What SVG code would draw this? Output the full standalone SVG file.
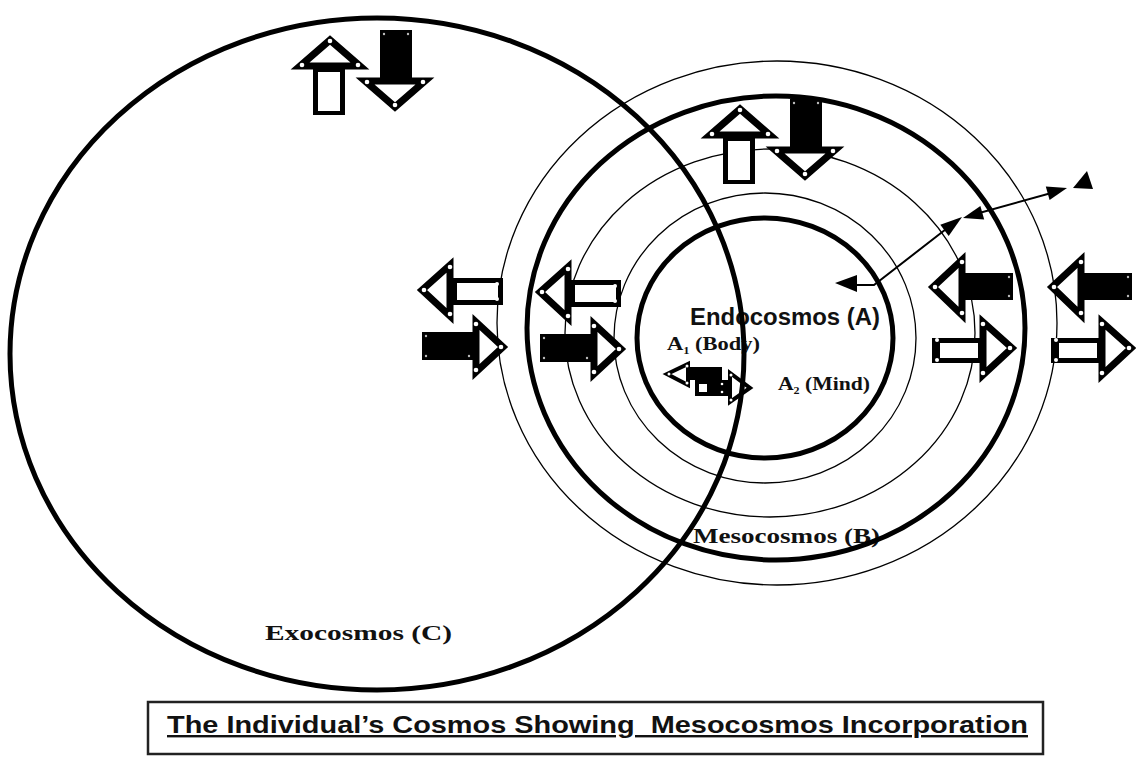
<svg xmlns="http://www.w3.org/2000/svg" xmlns:xlink="http://www.w3.org/1999/xlink" width="1136" height="757" viewBox="0 0 1136 757">
<style>
.thick{fill:none;stroke:#000;stroke-width:5}
.thin{fill:none;stroke:#000;stroke-width:1.3}
.tri{fill:#fff;stroke:#000;stroke-width:7;stroke-linejoin:miter;stroke-miterlimit:6}
.tris{fill:#fff;stroke:#000;stroke-width:4;stroke-linejoin:miter;stroke-miterlimit:6}
.blk{fill:#000}
.wht{fill:#fff}
.dot{fill:#fff}
.mk{fill:#bbb}
.serif{font-family:"Liberation Serif","Times New Roman",serif;font-weight:bold;fill:#111}
.sans{font-family:"Liberation Sans",Arial,sans-serif;font-weight:bold;fill:#111}
.ln{fill:none;stroke:#000;stroke-width:2}
.head{fill:#000}
</style>
<defs>
  <g id="udPair">
    <rect class="blk" x="313" y="64" width="32" height="51"/>
    <rect class="wht" x="318" y="72" width="22" height="39"/>
    <polygon class="tri" points="330,40 300,66 360,66"/>
    <circle class="dot" cx="330" cy="41" r="2.3"/>
    <circle class="dot" cx="302" cy="65" r="2.3"/>
    <circle class="dot" cx="358" cy="65" r="2.3"/>
    <circle class="dot" cx="320" cy="74" r="2"/>
    <circle class="dot" cx="338" cy="74" r="2"/>
    <circle class="dot" cx="320" cy="109" r="2"/>
    <circle class="dot" cx="338" cy="109" r="2"/>
    <rect class="blk" x="380" y="30" width="32" height="54"/>
    <polygon class="tri" points="365,81 425,81 395,107"/>
    <circle class="dot" cx="367" cy="82" r="2.3"/>
    <circle class="dot" cx="423" cy="82" r="2.3"/>
    <circle class="dot" cx="395" cy="105" r="2.3"/>
    <circle class="mk" cx="384" cy="34" r="1.2"/>
    <circle class="mk" cx="408" cy="34" r="1.2"/>
  </g>
  <g id="lrA">
    <rect class="blk" x="450" y="278" width="53" height="27"/>
    <rect class="wht" x="457" y="283" width="41" height="17"/>
    <polygon class="tri" points="422,290 450,265 450,316"/>
    <circle class="dot" cx="424" cy="290" r="2.3"/>
    <circle class="dot" cx="450" cy="267" r="2.3"/>
    <circle class="dot" cx="450" cy="314" r="2.3"/>
    <circle class="dot" cx="497" cy="284" r="2"/>
    <circle class="dot" cx="497" cy="299" r="2"/>
    <rect class="blk" x="422" y="332" width="56" height="28"/>
    <polygon class="tri" points="476,322 476,372 503,347"/>
    <circle class="dot" cx="476" cy="324" r="2.3"/>
    <circle class="dot" cx="476" cy="370" r="2.3"/>
    <circle class="dot" cx="501" cy="347" r="2.3"/>
    <circle class="mk" cx="426" cy="336" r="1.2"/>
    <circle class="mk" cx="426" cy="356" r="1.2"/>
    <circle class="mk" cx="469" cy="356" r="1.2"/>
  </g>
  <g id="lrB">
    <rect class="blk" x="450" y="274" width="53" height="27"/>
    <polygon class="tri" points="423,288 452,261 452,316"/>
    <circle class="dot" cx="425" cy="288" r="2.3"/>
    <circle class="dot" cx="452" cy="263" r="2.3"/>
    <circle class="dot" cx="452" cy="314" r="2.3"/>
    <circle class="mk" cx="499" cy="278" r="1.2"/>
    <circle class="mk" cx="499" cy="297" r="1.2"/>
    <rect class="blk" x="422" y="339" width="53" height="25"/>
    <rect class="wht" x="430" y="344" width="38" height="15"/>
    <polygon class="tri" points="473,323 473,376 502,349"/>
    <circle class="dot" cx="473" cy="325" r="2.3"/>
    <circle class="dot" cx="473" cy="374" r="2.3"/>
    <circle class="dot" cx="500" cy="349" r="2.3"/>
    <circle class="dot" cx="427" cy="341" r="2"/>
    <circle class="dot" cx="427" cy="361" r="2"/>
  </g>
</defs>

<g id="labels">
  <text id="label-endocosmos" class="sans" x="690" y="325" font-size="23" textLength="190" lengthAdjust="spacingAndGlyphs">Endocosmos (A)</text>
  <text id="label-body" class="serif" x="667" y="350" font-size="18" textLength="93" lengthAdjust="spacingAndGlyphs">A<tspan font-size="10" dy="4">1</tspan><tspan dy="-4"> (Body)</tspan></text>
  <text id="label-mind" class="serif" x="778" y="390" font-size="18" textLength="92" lengthAdjust="spacingAndGlyphs">A<tspan font-size="10" dy="4">2</tspan><tspan dy="-4"> (Mind)</tspan></text>
  <text id="label-mesocosmos" class="serif" x="693" y="543" font-size="22" textLength="187" lengthAdjust="spacingAndGlyphs">Mesocosmos (B)</text>
  <text id="label-exocosmos" class="serif" x="265" y="640" font-size="22" textLength="187" lengthAdjust="spacingAndGlyphs">Exocosmos (C)</text>
</g>

<g id="rings">
  <ellipse id="ring-outer" class="thin" cx="777" cy="323" rx="280" ry="262"/>
  <ellipse id="ring-b" class="thin" cx="770" cy="333" rx="205" ry="184"/>
  <ellipse id="ring-a" class="thin" cx="765" cy="338" rx="151" ry="145"/>
</g>
<g id="mesocosmos">
  <ellipse class="thick" cx="776" cy="328" rx="249" ry="232" stroke-width="6"/>
</g>
<g id="endocosmos">
  <ellipse class="thick" cx="765" cy="338" rx="128" ry="120" stroke-width="6"/>
</g>

<g id="connectors">
  <g id="flow-exo-top"><use xlink:href="#udPair"/></g>
  <g id="flow-meso-top"><use xlink:href="#udPair" transform="translate(410,69)"/></g>
  <g id="flow-exo-left"><use xlink:href="#lrA"/></g>
  <g id="flow-meso-left"><use xlink:href="#lrA" transform="translate(118,2)"/></g>
  <g id="flow-meso-right"><use xlink:href="#lrB" transform="translate(510,-1)"/></g>
  <g id="flow-outer-right"><use xlink:href="#lrB" transform="translate(629,-1)"/></g>
  <g id="flow-inner">
    <rect class="blk" x="687" y="367" width="35" height="13"/>
    <polygon class="tris" points="667,374 688,364 688,385"/>
    <circle class="dot" cx="669" cy="374" r="1.5"/>
    <circle class="dot" cx="687" cy="366" r="1.5"/>
    <circle class="dot" cx="687" cy="383" r="1.5"/>
    <rect class="blk" x="695" y="380" width="37" height="16"/>
    <rect class="wht" x="699" y="384" width="8" height="8"/>
    <circle class="dot" cx="722" cy="384" r="1.3"/>
    <circle class="dot" cx="722" cy="392" r="1.3"/>
    <polygon class="tris" points="730,373 730,402 750,388"/>
    <circle class="dot" cx="731" cy="375" r="1.5"/>
    <circle class="dot" cx="731" cy="400" r="1.5"/>
  </g>
</g>

<g id="exocosmos">
  <ellipse class="thick" cx="377" cy="354" rx="367" ry="336"/>
</g>

<g id="connector-lines">
  <polyline class="ln" points="850,285 874,285 950,226"/>
  <polygon class="head" points="835,283 857,275 857,292"/>
  <polygon class="head" points="962,217 948.7,235.9 940.3,224.7"/>
  <line class="ln" x1="972" y1="215" x2="1055" y2="192"/>
  <polygon class="head" points="963,218 984.2,219.4 980.4,205.9"/>
  <polygon class="head" points="1067,188 1049.6,200.1 1045.8,186.6"/>
  <polygon class="head" points="1073,188 1087,171 1093,189"/>
</g>

<g id="caption">
  <rect x="148" y="702" width="895" height="52" fill="none" stroke="#222" stroke-width="2.5"/>
  <text class="sans" x="167" y="733" font-size="24" textLength="861" lengthAdjust="spacingAndGlyphs" text-decoration="underline" style="white-space:pre">The Individual’s Cosmos Showing  Mesocosmos Incorporation</text>
</g>
</svg>
